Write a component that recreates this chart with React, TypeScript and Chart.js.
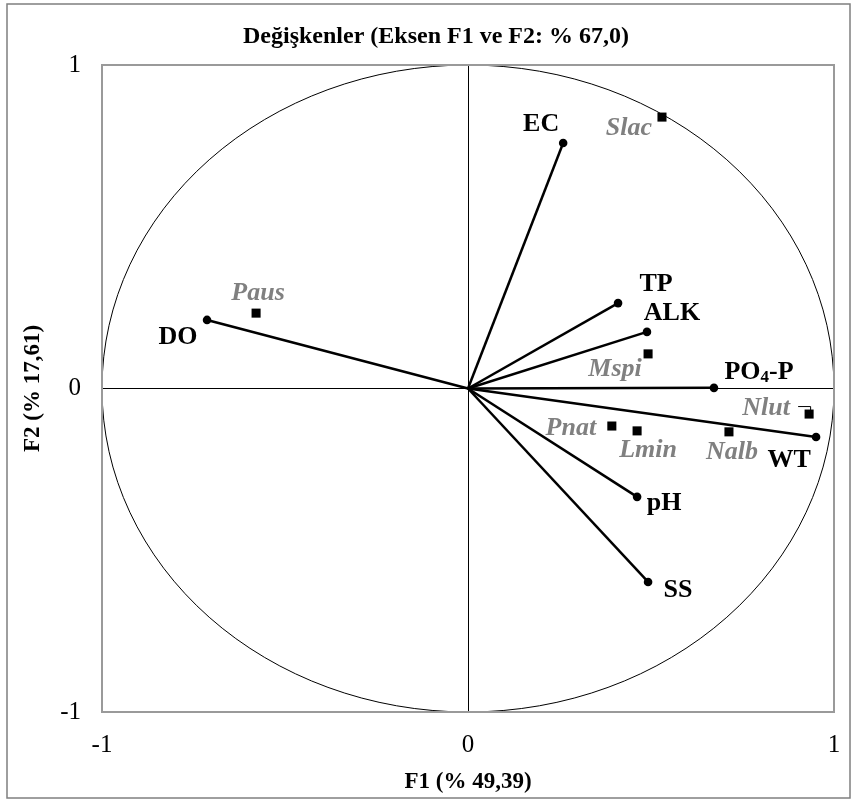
import React, { useEffect, useRef } from 'react';
import { Chart, registerables } from 'chart.js';

Chart.register(...registerables);

// Active variables (loadings on F1 / F2)
const variableNames = ['EC', 'TP', 'ALK', 'PO4-P', 'WT', 'pH', 'SS', 'DO'];
const variableF1 = [0.26, 0.41, 0.489, 0.672, 0.951, 0.462, 0.492, -0.713];
const variableF2 = [0.759, 0.264, 0.175, 0.002, -0.15, -0.335, -0.598, 0.212];

// Supplementary variables (species)
const speciesNames = ['Slac', 'Paus', 'Mspi', 'Nlut', 'Nalb', 'Pnat', 'Lmin'];
const speciesF1 = [0.53, -0.579, 0.492, 0.932, 0.713, 0.393, 0.462];
const speciesF2 = [0.839, 0.233, 0.107, -0.079, -0.134, -0.116, -0.131];

const axisTicks = [-1, 0, 1];

const chartTitle = 'Değişkenler (Eksen F1 ve F2: % 67,0)';
const xTitle = 'F1 (% 49,39)';
const yTitle = 'F2 (% 17,61)';

// label nudges in pixels (label centre relative to the marker)
const variableLabelNudge = [[-22, -19], [38, -19], [25, -19], [45, -16], [-27, 23], [27, 6], [30, 8], [-29, 17]];
const speciesLabelNudge = [[-33, 11], [2, -20], [-33, 15], [-43, -6], [3, 20], [-41, 2], [11, 19]];

const SERIF = "'Liberation Serif', 'Times New Roman', serif";

function drawLabel(ctx: CanvasRenderingContext2D, text: string, cx: number, cy: number, font: string, subFont: string) {
  const m = text.match(/^(\D+)(\d)(.*)$/);
  ctx.textBaseline = 'middle';
  if (!m) {
    ctx.font = font;
    ctx.textAlign = 'center';
    ctx.fillText(text, cx, cy);
    return;
  }
  const parts = [
    { t: m[1], f: font, dy: 0 },
    { t: m[2], f: subFont, dy: 6 },
    { t: m[3], f: font, dy: 0 },
  ];
  let total = 0;
  for (const p of parts) { ctx.font = p.f; total += ctx.measureText(p.t).width; }
  let x = cx - total / 2;
  ctx.textAlign = 'left';
  for (const p of parts) {
    ctx.font = p.f;
    ctx.fillText(p.t, x, cy + p.dy);
    x += ctx.measureText(p.t).width;
  }
}

const decorPlugin = {
  id: 'decor',
  beforeDraw(chart: any) {
    const { ctx, width, height } = chart;
    ctx.save();
    ctx.fillStyle = '#fff';
    ctx.fillRect(0, 0, width, height);
    ctx.strokeStyle = '#7f7f7f';
    ctx.lineWidth = 1.5;
    ctx.strokeRect(7, 4, 843, 794);
    ctx.fillStyle = '#000';
    ctx.font = `bold 24px ${SERIF}`;
    ctx.textAlign = 'center';
    ctx.textBaseline = 'alphabetic';
    ctx.fillText(chartTitle, 436, 43);
    ctx.restore();
  },
  beforeDatasetsDraw(chart: any) {
    const { ctx, chartArea, scales } = chart;
    const xs = scales.x, ys = scales.y;
    const cx = xs.getPixelForValue(0), cy = ys.getPixelForValue(0);
    const rx = xs.getPixelForValue(1) - cx, ry = cy - ys.getPixelForValue(1);
    ctx.save();
    ctx.strokeStyle = '#000';
    ctx.lineWidth = 1;
    ctx.beginPath();
    ctx.ellipse(cx, cy, rx, ry, 0, 0, Math.PI * 2);
    ctx.stroke();
    ctx.strokeStyle = '#9a9a9a';
    ctx.lineWidth = 2;
    ctx.strokeRect(chartArea.left, chartArea.top, chartArea.right - chartArea.left, chartArea.bottom - chartArea.top);
    ctx.restore();
  },
  afterDatasetsDraw(chart: any) {
    const { ctx, scales } = chart;
    const xs = scales.x, ys = scales.y;
    ctx.save();
    ctx.fillStyle = '#000';
    variableNames.forEach((n, i) => {
      const px = xs.getPixelForValue(variableF1[i]);
      const py = ys.getPixelForValue(variableF2[i]);
      const [dx, dy] = variableLabelNudge[i];
      drawLabel(ctx, n, px + dx, py + dy, `bold 26px ${SERIF}`, `bold 17px ${SERIF}`);
    });
    ctx.fillStyle = '#808080';
    speciesNames.forEach((n, i) => {
      const px = xs.getPixelForValue(speciesF1[i]);
      const py = ys.getPixelForValue(speciesF2[i]);
      const [dx, dy] = speciesLabelNudge[i];
      drawLabel(ctx, n, px + dx, py + dy, `italic bold 26px ${SERIF}`, `italic bold 17px ${SERIF}`);
      if (n === 'Nlut') {
        ctx.strokeStyle = '#000';
        ctx.lineWidth = 1;
        ctx.beginPath();
        ctx.moveTo(px - 11, py - 7.5);
        ctx.lineTo(px + 1.5, py - 7.5);
        ctx.lineTo(px + 1.5, py - 4);
        ctx.stroke();
      }
    });
    ctx.restore();
  },
};

export default function App() {
  const ref = useRef<HTMLCanvasElement>(null);
  useEffect(() => {
    if (!ref.current) return;
    const variableSets = variableNames.map((n, i) => ({
      type: 'scatter' as const,
      label: n,
      data: [{ x: 0, y: 0 }, { x: variableF1[i], y: variableF2[i] }],
      showLine: true,
      borderColor: '#000',
      borderWidth: 2.5,
      backgroundColor: '#000',
      pointRadius: [0, 4.3],
      pointBorderWidth: 0,
      pointHoverRadius: [0, 4.3],
    }));
    const speciesSet = {
      type: 'scatter' as const,
      label: 'species',
      data: speciesNames.map((_, i) => ({ x: speciesF1[i], y: speciesF2[i] })),
      showLine: false,
      pointStyle: 'rect',
      pointRadius: 6.4,
      pointBorderWidth: 0,
      backgroundColor: '#000',
      borderColor: '#000',
    };
    const tickFont = { family: SERIF, size: 25 };
    const titleFont = { family: SERIF, size: 23, weight: 'bold' as const };
    const chart = new Chart(ref.current, {
      type: 'scatter',
      data: { datasets: [...variableSets, speciesSet] as any },
      options: {
        animation: false,
        responsive: false,
        events: [],
        layout: { padding: { left: 8, right: 17, top: 65, bottom: 5 } },
        plugins: { legend: { display: false }, tooltip: { enabled: false }, title: { display: false } },
        scales: {
          x: {
            type: 'linear',
            min: -1,
            max: 1,
            afterBuildTicks: (s: any) => { s.ticks = axisTicks.map(v => ({ value: v })); },
            afterFit: (s: any) => { s.height = 84; s.paddingLeft = 0; s.paddingRight = 0; },
            ticks: { font: tickFont, color: '#000', padding: 18, maxRotation: 0, callback: (v: any) => String(v) },
            grid: { drawTicks: false, color: (c: any) => (c.tick && c.tick.value === 0 ? '#000' : 'rgba(0,0,0,0)'), lineWidth: 1 },
            border: { display: false },
            title: { display: true, text: xTitle, font: titleFont, color: '#000', padding: { top: 0, bottom: 0 } },
          },
          y: {
            type: 'linear',
            min: -1,
            max: 1,
            afterBuildTicks: (s: any) => { s.ticks = axisTicks.map(v => ({ value: v })); },
            afterFit: (s: any) => { s.width = 94; s.paddingTop = 0; s.paddingBottom = 0; },
            ticks: { font: tickFont, color: '#000', padding: 21, callback: (v: any) => String(v) },
            grid: { drawTicks: false, color: (c: any) => (c.tick && c.tick.value === 0 ? '#000' : 'rgba(0,0,0,0)'), lineWidth: 1 },
            border: { display: false },
            title: { display: true, text: yTitle, font: titleFont, color: '#000', padding: { top: 11, bottom: 0 } },
          },
        },
      },
      plugins: [decorPlugin],
    });
    return () => chart.destroy();
  }, []);
  return (
    <div style={{ position: 'fixed', left: 0, top: 0, width: 851, height: 801 }}>
      <canvas ref={ref} width={851} height={801} style={{ width: 851, height: 801, display: 'block' }} />
    </div>
  );
}
